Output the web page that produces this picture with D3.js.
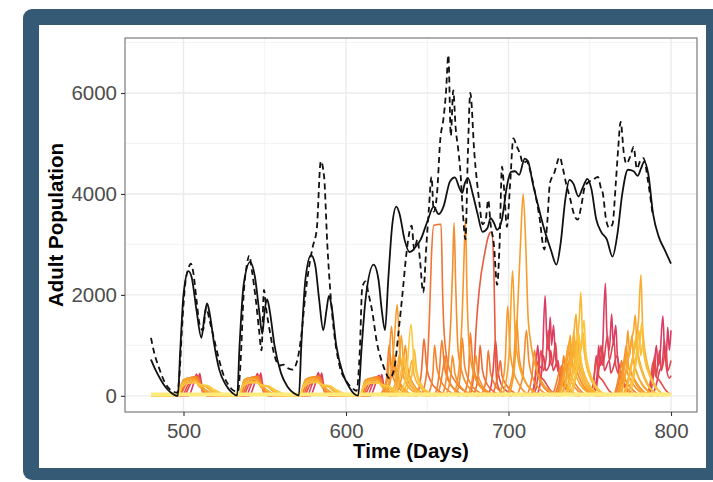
<!DOCTYPE html>
<html>
<head>
<meta charset="utf-8">
<script src="https://cdn.jsdelivr.net/npm/d3@7"></script>
<style>
  body { margin: 0; background: #fff; }
  svg { display: block; font-family: "Liberation Sans", Arial, Helvetica, sans-serif; }
</style>
</head>
<body>
<div id="chart"></div>
<script>
// axis breaks
const xTicks = [500, 600, 700, 800];
const yTicks = [0, 2000, 4000, 6000];
const xMinor = [550, 650, 750];
const yMinor = [1000, 3000, 5000, 7000];

// black solid line (day, adults)
const solidLine = [
  [480,720],[483,500],[486,320],[489,170],[492,70],[495,10],[496.5,0],[498,900],[500,2000],[503,2470],
  [505,2350],[508,1700],[511,1150],[513,1600],[514.5,1830],[516,1650],[519,1000],[522,520],[526,220],[530,60],
  [533,5],[534.5,1000],[537,2200],[541,2650],[544,2350],[546.5,1700],[548.5,1230],[550,1700],[551.5,1910],[553,1700],
  [556,1000],[560,450],[564,180],[568,50],[571,5],[572.5,1000],[575,2300],[578.5,2790],[581,2600],[583.5,1900],
  [586,1300],[588,1700],[589.5,1980],[591,1800],[594,1000],[598,450],[602,170],[605,40],[607.5,5],[609.5,900],
  [612,1900],[617,2600],[620,2300],[622,1700],[624,1300],[626,2300],[628.5,3400],[631,3750],[633,3600],[636,3100],
  [639,2850],[641,2880],[643,2960],[646,3100],[650,3450],[654,3750],[657,3600],[660,3750],[664,4250],[667,4330],
  [670,4100],[671.5,4020],[673,4200],[675,4320],[678,4000],[681,3600],[684,3250],[687,3320],[689,3520],[691,3430],
  [693,3290],[696,3500],[699,4150],[701.5,4440],[704,4450],[706.5,4380],[710,4700],[712,4650],[715,4200],[718,3800],
  [722,3300],[726,2900],[729.5,2600],[732,3000],[735,3900],[737.5,4280],[740,4200],[743,3950],[746,4150],[748.5,4300],
  [751,4100],[754,3500],[757,3250],[760.5,3100],[764,2760],[767,3200],[770,4000],[773.5,4480],[777,4450],[779.5,4360],
  [781.5,4500],[783.5,4640],[786,4400],[789,3600],[792.5,3150],[796,2900],[800,2620]
];

// black dashed line (day, adults)
const dashedLine = [
  [480,1150],[482,850],[485,550],[488,300],[491,150],[494,80],[496,60],[497.5,400],[499,1300],[501,2200],
  [503,2520],[504.5,2620],[506,2450],[508,1900],[510,1400],[512,1300],[514,1750],[516,1500],[519,1100],[522,700],
  [525,380],[528,200],[531,100],[533.5,80],[535,600],[537,2000],[539,2600],[540.5,2780],[542,2500],[544.5,1900],
  [546.5,1300],[548,900],[549.5,2100],[551,1700],[553,1300],[556,800],[559,600],[561.5,620],[564,550],[567,520],
  [570,700],[572.5,1200],[575,2000],[577,2500],[579.5,2950],[582,3300],[584.5,4650],[586.5,4350],[588.5,3000],[590.5,2000],
  [592.5,1300],[596,600],[600,300],[604,150],[606.5,100],[608.5,900],[610,2150],[612,2270],[614,2000],[616,1700],
  [619,1060],[623,590],[627,340],[630,600],[632.5,1320],[635,2100],[637,2770],[640.4,3370],[642,2900],[644,3100],
  [645.5,2700],[647.5,2050],[649.5,3000],[651,3700],[652.6,4340],[654,3650],[656,4000],[658,5070],[660,5500],[661.5,6000],
  [663,6750],[664.5,5150],[666,6050],[667.5,5300],[669,4900],[670.5,4400],[672,3600],[673.5,3100],[675,4800],[676.5,6000],
  [679,4800],[682,3850],[684,3400],[686,3500],[687.5,3880],[689,3400],[691,3000],[693,2200],[694.5,3000],[696,4540],
  [697.5,4000],[699,3350],[701,4200],[703,5100],[705,4950],[707,4800],[709,4600],[711,4650],[713,4500],[716,4080],
  [719,3550],[722,2900],[724,3500],[725.5,4220],[728,4400],[731.5,4730],[733.5,4500],[735.5,4200],[738,3900],[740,3630],
  [742.5,3490],[745,3800],[747,4150],[750,4250],[752,4280],[755,4340],[757,4100],[758,4020],[760,3500],[762,3330],
  [764,3400],[766,4200],[767.5,4900],[769,5430],[771,4800],[772.5,4600],[775,4750],[777,4930],[779,4500],[781,4650],
  [783,4710],[786,4220],[788.7,3590]
];

// pale yellow runs sitting on the floor
const baseLevels = [5, 20, 35, 50];

// coloured runs: level picks the colour along the yellow -> pink ramp
const colorTraces = [
  { level: 0.06, pts: [[480,0],[496,0],[499,180],[503,250],[507,260],[511,220],[515,200],[519,120],[524,40],[528,0],[533.5,0],[536.5,185],[540.5,255],[544.5,260],[548.5,215],[552.5,195],[556.5,115],[561.5,40],[565.5,0],[571,0],[574,180],[578,255],[582,265],[586,220],[590,200],[594,120],[599,40],[603,0],[608,0],[611,175],[615,250],[619,255],[623,215],[627,180],[631,100],[636,30],[640,0]] },
  { level: 0.12, pts: [[496.2,0],[499.2,230],[503,290],[507,285],[510.5,200],[514,195],[518,100],[523,30],[527,0],[533.7,0],[536.7,230],[540.5,290],[544.5,285],[548,200],[551.5,195],[555.5,100],[560.5,30],[564.5,0],[571.2,0],[574.2,230],[578,295],[582,290],[585.5,200],[589,195],[593,100],[598,30],[602,0],[608.2,0],[611.2,225],[615,285],[619,280],[622.5,200],[626,185],[630,90],[635,25],[639,0]] },
  { level: 0.2, pts: [[480,0],[496.5,0],[500,280],[503,330],[507,310],[510,170],[513,190],[517,90],[522,20],[526,0],[534,0],[537.5,285],[541,335],[545,310],[548,165],[551,190],[555,90],[560,20],[564,0],[571.5,0],[575,280],[578.5,330],[582.5,315],[585.5,170],[588.5,185],[592.5,90],[597,20],[601,0],[608.5,0],[612,270],[615.5,325],[619.5,305],[622.5,170],[626,160],[630,70],[635,0]] },
  { level: 0.28, pts: [[496.7,0],[499.8,300],[503.5,345],[507,330],[509.8,210],[512.5,150],[516,70],[521,0],[534.2,0],[537.3,300],[541,345],[544.5,330],[547.3,210],[550,150],[553.5,70],[558.5,0],[571.7,0],[574.8,300],[578.5,350],[582,335],[584.8,210],[587.5,150],[591,70],[596,0],[608.7,0],[611.8,295],[615.5,340],[619,325],[621.8,210],[624.5,150],[628,70],[633,0]] },
  { level: 0.35, pts: [[480,0],[497,0],[500,320],[504,360],[507,350],[509.5,250],[512,120],[516,50],[520,0],[534.5,0],[537.5,325],[541.5,365],[544.5,350],[547,250],[549.5,120],[553.5,50],[557.5,0],[572,0],[575,320],[579,370],[582,355],[584.5,250],[587,120],[591,50],[595,0],[609,0],[612,315],[616,355],[619,345],[621.5,250],[624,130],[628,50],[632,0]] },
  { level: 0.44, pts: [[497.2,0],[500.5,305],[504.5,365],[507.5,370],[509.8,270],[511.5,110],[515,40],[519,0],[534.7,0],[538,305],[542,365],[545,375],[547.3,270],[549,110],[552.5,40],[556.5,0],[572.2,0],[575.5,305],[579.5,370],[582.5,380],[584.8,270],[586.5,110],[590,40],[594,0],[609.2,0],[612.5,300],[616.5,360],[619.5,370],[621.8,270],[623.5,110],[627,40],[631,0]] },
  { level: 0.52, pts: [[480,0],[497.5,0],[501,290],[505,370],[508,380],[510,290],[512,100],[515,30],[518,0],[535,0],[538.5,295],[542.5,375],[545.5,385],[547.5,290],[549.5,100],[552.5,30],[555.5,0],[572.5,0],[576,290],[580,375],[583,385],[585,290],[587,100],[590,30],[593,0],[609.5,0],[613,285],[617,365],[620,375],[622,290],[624,110],[627,30],[630,0]] },
  { level: 0.63, pts: [[498.2,0],[502,260],[506,350],[508.5,385],[510.2,260],[512,80],[515,0],[535.7,0],[539.5,260],[543.5,350],[546,390],[547.7,260],[549.5,80],[552.5,0],[573.2,0],[577,260],[581,355],[583.5,395],[585.2,260],[587,80],[590,0],[610.2,0],[614,255],[618,345],[620.5,385],[622.2,260],[624,80],[627,0]] },
  { level: 0.75, pts: [[480,0],[499,0],[503,230],[507,330],[509,380],[510.5,220],[512,60],[515,0],[536.5,0],[540.5,235],[544.5,335],[546.5,385],[548,220],[549.5,60],[552.5,0],[574,0],[578,230],[582,335],[584,390],[585.5,220],[587,60],[590,0],[611,0],[615,225],[619,330],[621,380],[622.5,220],[624,70],[627,0]] },
  { level: 0.85, pts: [[501,0],[504.5,250],[507.5,370],[508.8,400],[510,300],[511.2,160],[513,40],[516,0],[538.5,0],[542,250],[545,370],[546.3,405],[547.5,300],[548.7,160],[550.5,40],[553.5,0],[576,0],[579.5,255],[582.5,375],[583.8,410],[585,300],[586.2,160],[588,40],[591,0],[613,0],[616.5,245],[619.5,365],[620.8,395],[622,300],[623.2,160],[625,40],[628,0]] },
  { level: 0.95, pts: [[480,0],[503,0],[506,220],[508,430],[509,290],[510,440],[511,260],[513,60],[516,0],[540.5,0],[543.5,220],[545.5,440],[546.5,290],[547.5,450],[548.5,260],[550.5,60],[553.5,0],[578,0],[581,230],[583,460],[584,300],[585,450],[586,260],[588,60],[591,0],[615,0],[618,220],[620,400],[621,280],[622,420],[623,250],[625,60],[628,0]] },

  { level: 0.30, pts: [[622,0],[625,120],[627,350],[629.5,1000],[631.5,1810],[633,900],[635,450],[638,200],[643,60],[650,0]] },
  { level: 0.38, pts: [[621,0],[624,150],[626,450],[628,1380],[629.5,700],[632,350],[636,130],[642,0]] },
  { level: 0.46, pts: [[620,0],[623,120],[625,350],[626.5,1000],[628,500],[631,220],[636,60],[640,0]] },
  { level: 0.22, pts: [[626,0],[629,120],[631,350],[633,850],[634.5,500],[637,250],[642,80],[648,0]] },
  { level: 0.06, pts: [[632,0],[635,150],[637.5,500],[640,1420],[641.5,800],[643.5,400],[647,150],[652,0]] },
  { level: 0.14, pts: [[635,0],[638,150],[640.5,400],[642,920],[643.5,500],[646,250],[651,60],[656,0]] },
  { level: 0.26, pts: [[628,0],[631,200],[632.5,500],[634,1200],[635.5,600],[638,300],[644,80],[650,0]] },
  { level: 0.34, pts: [[630,0],[633,200],[635,500],[636.5,1000],[638,550],[641,260],[646,80],[652,0]] },
  { level: 0.18, pts: [[634,0],[637,200],[639,450],[640.5,700],[642,400],[645,200],[650,50],[655,0]] },
  { level: 0.28, pts: [[624,0],[626,200],[628,550],[629,700],[630,420],[633,200],[638,50],[643,0]] },
  { level: 0.12, pts: [[630,0],[632,200],[634,500],[636,800],[637,520],[640,260],[645,70],[650,0]] },
  { level: 0.42, pts: [[625,0],[627,250],[629,600],[630,800],[631,450],[634,200],[639,50],[644,0]] },

  { level: 0.55, pts: [[646,0],[648,150],[650,600],[651.5,1700],[652.5,2700],[654,3380],[658.5,3400],[659.5,2000],[660.5,1200],[663,600],[668,250],[675,60],[682,0]] },
  { level: 0.60, pts: [[643,0],[645,150],[646.5,500],[648,1130],[649.5,600],[652,300],[657,100],[663,0]] },
  { level: 0.40, pts: [[659,0],[661,200],[663,700],[664.5,1500],[665.7,2600],[666.5,3430],[667.5,2200],[669,900],[672,400],[677,120],[684,0]] },
  { level: 0.34, pts: [[666,0],[668,200],[670,700],[671.5,1600],[672.6,2700],[673.5,3490],[674.5,2000],[676,900],[679,400],[684,130],[690,0]] },
  { level: 0.70, pts: [[676,0],[678,250],[679,650],[680,1300],[682,2100],[685.5,2850],[688,3200],[689.5,3250],[691,2500],[692,800],[693,250],[697,0]] },
  { level: 0.48, pts: [[654,0],[656,150],[657.5,500],[659,1100],[660.5,600],[663,300],[668,100],[674,0]] },
  { level: 0.42, pts: [[667,0],[669,150],[670.5,500],[671.5,1150],[673,600],[676,280],[681,90],[687,0]] },
  { level: 0.50, pts: [[672,0],[674,150],[675.5,500],[676.5,1250],[678,650],[681,300],[686,90],[692,0]] },
  { level: 0.62, pts: [[678,0],[680,150],[681.5,450],[682.5,1000],[684,500],[687,220],[692,60],[697,0]] },
  { level: 0.82, pts: [[687,0],[689,150],[690.5,500],[692,1100],[693.5,500],[696,200],[701,50],[705,0]] },
  { level: 0.45, pts: [[650,0],[652,150],[653.5,450],[654.5,1000],[656,550],[659,260],[664,80],[670,0]] },
  { level: 0.38, pts: [[661,0],[663,150],[664.5,400],[665.5,800],[667,450],[670,200],[675,60],[680,0]] },
  { level: 0.52, pts: [[683,0],[685,150],[686.5,400],[687.5,900],[689,450],[692,200],[697,50],[702,0]] },
  { level: 0.46, pts: [[656,0],[658,200],[660,600],[661,800],[662,450],[665,200],[670,50],[675,0]] },
  { level: 0.36, pts: [[675,0],[677,200],[679,600],[680,800],[681,450],[684,200],[689,50],[694,0]] },
  { level: 0.58, pts: [[690,0],[692,200],[694,500],[695,700],[696,400],[699,200],[704,50],[709,0]] },

  { level: 0.30, pts: [[700,0],[702,200],[704,700],[706,2000],[707.5,3100],[709,4000],[710.5,3100],[712,1600],[713.5,1100],[716,650],[720,300],[726,80],[732,0]] },
  { level: 0.33, pts: [[694,0],[696,200],[698,700],[699.5,1780],[701,900],[703,500],[707,200],[713,0]] },
  { level: 0.27, pts: [[696,0],[698,200],[700.5,900],[702.5,2480],[704,1300],[706,700],[710,300],[716,80],[722,0]] },
  { level: 0.37, pts: [[699,0],[701,200],[703,550],[705,1500],[706.5,800],[709,400],[714,120],[720,0]] },
  { level: 0.41, pts: [[705,0],[707,150],[709,450],[711,1300],[712.5,700],[715,350],[720,110],[726,0]] },
  { level: 0.46, pts: [[711,0],[713,150],[714.5,400],[716,900],[717.5,500],[720,250],[725,70],[730,0]] },

  { level: 0.95, pts: [[713,0],[715,100],[716.5,400],[718,1000],[719,600],[720.5,550],[722.5,1980],[723.5,1200],[724.5,900],[725.7,1560],[726.5,1000],[727.7,1400],[728.8,800],[731,450],[734,200],[738,60],[742,0]] },
  { level: 0.85, pts: [[715,0],[717,150],[718.5,500],[720,900],[721.5,500],[723,700],[724.5,1300],[725.5,700],[727,600],[729,1050],[730,600],[733,300],[737,100],[741,0]] },
  { level: 0.90, pts: [[717,0],[719,150],[720.5,500],[721.5,800],[723,500],[725,600],[726,900],[727.5,500],[729.5,650],[730.5,700],[731.5,400],[734,200],[739,50],[743,0]] },
  { level: 0.80, pts: [[714,0],[716,200],[717.5,600],[718.5,700],[719.5,400],[722,300],[726,100],[730,0]] },

  { level: 0.14, pts: [[734,0],[736,100],[738,300],[740,600],[742,1000],[743.5,1500],[744.5,2050],[745.5,1200],[746.5,900],[748,600],[751,300],[755,100],[760,0]] },
  { level: 0.22, pts: [[732,0],[734,150],[736,400],[738,750],[740,1150],[741.6,1620],[742.5,1000],[744,700],[746,450],[750,180],[756,0]] },
  { level: 0.28, pts: [[731,0],[733,200],[735,500],[737,900],[738,1200],[739,700],[741,550],[742.5,900],[743.5,1150],[744.5,700],[747,400],[751,150],[757,0]] },
  { level: 0.34, pts: [[730,0],[732,150],[734,450],[736,850],[736.8,1000],[738,600],[740,900],[741,600],[743,400],[746,200],[750,60],[755,0]] },
  { level: 0.44, pts: [[729,0],[731,150],[733,500],[734,800],[735,500],[737,650],[738.5,400],[740,300],[743,150],[748,0]] },
  { level: 0.08, pts: [[737,0],[739,150],[741,400],[743,750],[745,1100],[746.5,1500],[747.5,900],[749,600],[752,300],[757,80],[762,0]] },
  { level: 0.55, pts: [[728,0],[730,150],[731.5,350],[732.5,600],[734,300],[736,200],[740,60],[744,0]] },
  { level: 0.18, pts: [[733,0],[735,200],[737,500],[739,850],[740.3,1300],[741.3,800],[743,550],[746,280],[751,80],[756,0]] },
  { level: 0.10, pts: [[736,0],[738,200],[740,450],[742,800],[743.2,1250],[744.2,800],[746,500],[749,250],[754,70],[759,0]] },
  { level: 0.24, pts: [[731,0],[733,250],[735,600],[737,1000],[737.8,1100],[738.8,700],[741,450],[744,230],[749,60],[754,0]] },
  { level: 0.32, pts: [[733,0],[735,300],[737,650],[739,950],[740,1050],[741,650],[743,420],[746,210],[751,60],[756,0]] },
  { level: 0.20, pts: [[735,0],[737,300],[739,650],[741,1000],[742,1100],[743,700],[745,450],[748,220],[753,60],[758,0]] },
  { level: 0.40, pts: [[730,0],[732,250],[734,550],[735.5,700],[736.5,450],[739,250],[743,90],[748,0]] },
  { level: 0.12, pts: [[739,0],[741,300],[743,650],[745,1000],[746,1250],[747,800],[749,500],[752,250],[757,70],[762,0]] },
  { level: 0.48, pts: [[727,0],[729,200],[731,450],[732,550],[733,350],[736,180],[740,50],[744,0]] },

  { level: 0.95, pts: [[751,0],[753,150],[754.5,400],[755.5,1000],[756.5,600],[757.5,700],[759.6,2230],[760.5,1300],[762,900],[763.5,1620],[764.5,1000],[766,1400],[767,800],[769,500],[772,200],[776,60],[780,0]] },
  { level: 0.85, pts: [[749,0],[751,100],[752.5,300],[754,800],[755,500],[757,1000],[758,600],[761,1200],[762,700],[765,1100],[766,600],[769,350],[773,100],[777,0]] },
  { level: 0.90, pts: [[752,0],[754,150],[755.5,500],[758,900],[759,500],[762,700],[763,450],[767,800],[768,450],[771,250],[775,60],[779,0]] },
  { level: 0.80, pts: [[750,0],[752,200],[753.5,600],[754.5,700],[755.5,400],[758,300],[762,100],[766,0]] },

  { level: 0.20, pts: [[770,0],[772,150],[774,400],[776,700],[778,1000],[780,1500],[781.5,2400],[782.5,1400],[783.5,1000],[785,700],[788,350],[792,120],[797,0]] },
  { level: 0.25, pts: [[768,0],[770,150],[772,450],[774,800],[776,1150],[777,1300],[778,1600],[779,1000],[781,650],[784,350],[788,120],[793,0]] },
  { level: 0.30, pts: [[767,0],[769,200],[771,550],[772.5,900],[773.5,1300],[774.5,800],[776,1200],[777,700],[779,450],[783,200],[788,50],[792,0]] },
  { level: 0.38, pts: [[766,0],[768,150],[770,450],[771.5,800],[772.5,1000],[773.5,600],[775,500],[778,300],[783,90],[788,0]] },
  { level: 0.12, pts: [[773,0],[775,200],[777,500],[779,900],[780.3,1300],[781.3,800],[783,1100],[784,700],[787,400],[791,150],[796,0]] },
  { level: 0.50, pts: [[765,0],[767,150],[768.5,400],[769.5,700],[771,400],[774,200],[779,50],[783,0]] },
  { level: 0.16, pts: [[771,0],[773,200],[775,500],[777,850],[778.8,1200],[779.8,750],[782,500],[786,200],[791,50],[795,0]] },
  { level: 0.22, pts: [[769,0],[771,250],[773,600],[775,950],[776,1100],[777,700],[779,450],[782,230],[787,60],[792,0]] },
  { level: 0.28, pts: [[768,0],[770,300],[772,700],[773,850],[774,550],[776,400],[779,200],[784,50],[789,0]] },
  { level: 0.14, pts: [[772,0],[774,300],[776,650],[778,1000],[779,1150],[780,750],[782,480],[785,240],[790,60],[795,0]] },
  { level: 0.42, pts: [[765,0],[767,250],[769,550],[770,650],[771,400],[774,220],[778,70],[783,0]] },
  { level: 0.10, pts: [[775,0],[777,350],[779,750],[781,1100],[782,1450],[783,900],[785,600],[788,300],[793,80],[798,0]] },
  { level: 0.34, pts: [[767,0],[769,300],[771,650],[772,750],[773,480],[775,330],[778,170],[783,40],[788,0]] },

  { level: 0.95, pts: [[786,0],[788,150],[789.5,500],[791,1000],[792,600],[793,700],[795,1580],[796,900],[797,700],[798,1360],[799,900],[800,1300]] },
  { level: 0.85, pts: [[785,0],[787,150],[788.5,400],[790,800],[791,400],[793,900],[794,500],[797,900],[798,500],[800,700]] },
  { level: 0.90, pts: [[788,0],[790,120],[791.5,300],[793,500],[794.5,600],[796,1100],[797,600],[799,350],[800,400]] },
  { level: 0.80, pts: [[785,0],[787,200],[788.5,600],[789.5,700],[790.5,400],[793,300],[797,100],[800,30]] }
];

const W = 713, H = 482;
const panel = { left: 125, right: 697, top: 38, bottom: 412 };

const svg = d3.select('#chart').append('svg')
  .attr('width', W)
  .attr('height', H);

// outer frame + white card
svg.append('rect')
  .attr('x', 23).attr('y', 9)
  .attr('width', 720).attr('height', 471)
  .attr('rx', 9)
  .attr('fill', '#355a75');
svg.append('rect')
  .attr('x', 39).attr('y', 25)
  .attr('width', 667).attr('height', 443)
  .attr('fill', '#fff');

const x = d3.scaleLinear().domain([464, 816]).range([panel.left, panel.right]);
const y = d3.scaleLinear().domain([-320, 7090]).range([panel.bottom, panel.top]);

const color = d3.scaleLinear()
  .domain([0, 0.25, 0.5, 0.75, 1])
  .range(['#fcd446', '#f8a52b', '#f37c2e', '#e8523f', '#d6366b']);

// grid
const grid = svg.append('g');
grid.selectAll('.minor-x').data(xMinor).enter().append('line')
  .attr('x1', d => x(d)).attr('x2', d => x(d))
  .attr('y1', panel.top).attr('y2', panel.bottom)
  .attr('stroke', '#f0f0f0').attr('stroke-width', 0.8);
grid.selectAll('.minor-y').data(yMinor).enter().append('line')
  .attr('y1', d => y(d)).attr('y2', d => y(d))
  .attr('x1', panel.left).attr('x2', panel.right)
  .attr('stroke', '#f0f0f0').attr('stroke-width', 0.8);
grid.selectAll('.major-x').data(xTicks).enter().append('line')
  .attr('x1', d => x(d)).attr('x2', d => x(d))
  .attr('y1', panel.top).attr('y2', panel.bottom)
  .attr('stroke', '#ebebeb').attr('stroke-width', 1.4);
grid.selectAll('.major-y').data(yTicks).enter().append('line')
  .attr('y1', d => y(d)).attr('y2', d => y(d))
  .attr('x1', panel.left).attr('x2', panel.right)
  .attr('stroke', '#ebebeb').attr('stroke-width', 1.4);

const line = d3.line()
  .x(d => x(d[0]))
  .y(d => y(d[1]))
  .curve(d3.curveMonotoneX);

// pink runs underneath, yellow ones on top
const ordered = colorTraces.slice().sort((a, b) => b.level - a.level);

svg.append('g').selectAll('path')
  .data(ordered)
  .enter().append('path')
  .attr('d', d => line(d.pts))
  .attr('fill', 'none')
  .attr('stroke', d => color(d.level))
  .attr('stroke-width', 1.6)
  .attr('stroke-linejoin', 'round');

svg.append('g').selectAll('path')
  .data(baseLevels)
  .enter().append('path')
  .attr('d', v => line([[480, v], [800, v]]))
  .attr('fill', 'none')
  .attr('stroke', '#fdeb7e')
  .attr('stroke-width', 1.6);

svg.append('path')
  .attr('d', line(solidLine))
  .attr('fill', 'none')
  .attr('stroke', '#111')
  .attr('stroke-width', 1.8);

svg.append('path')
  .attr('d', line(dashedLine))
  .attr('fill', 'none')
  .attr('stroke', '#111')
  .attr('stroke-width', 1.8)
  .attr('stroke-dasharray', '6,4');

// panel border
svg.append('rect')
  .attr('x', panel.left).attr('y', panel.top)
  .attr('width', panel.right - panel.left)
  .attr('height', panel.bottom - panel.top)
  .attr('fill', 'none')
  .attr('stroke', '#707070')
  .attr('stroke-width', 1.1);

// axes
const xAxis = svg.append('g')
  .attr('transform', `translate(0,${panel.bottom})`)
  .call(d3.axisBottom(x).tickValues(xTicks).tickFormat(d3.format('d')).tickSize(4).tickPadding(7));
const yAxis = svg.append('g')
  .attr('transform', `translate(${panel.left},0)`)
  .call(d3.axisLeft(y).tickValues(yTicks).tickFormat(d3.format('d')).tickSize(4).tickPadding(4));

[xAxis, yAxis].forEach(a => {
  a.select('.domain').remove();
  a.selectAll('.tick line').attr('stroke', '#333').attr('stroke-width', 1.1);
  a.selectAll('.tick text')
    .attr('fill', '#4d4d4d')
    .style('font-size', '20.5px')
    .style('font-family', '"Liberation Sans", Arial, sans-serif');
});

svg.append('text')
  .attr('x', (panel.left + panel.right) / 2)
  .attr('y', 458)
  .attr('text-anchor', 'middle')
  .style('font-size', '20.5px')
  .style('font-weight', 'bold')
  .text('Time (Days)');

svg.append('text')
  .attr('transform', `translate(63,${(panel.top + panel.bottom) / 2}) rotate(-90)`)
  .attr('text-anchor', 'middle')
  .style('font-size', '20.5px')
  .style('font-weight', 'bold')
  .text('Adult Population');
</script>
</body>
</html>
